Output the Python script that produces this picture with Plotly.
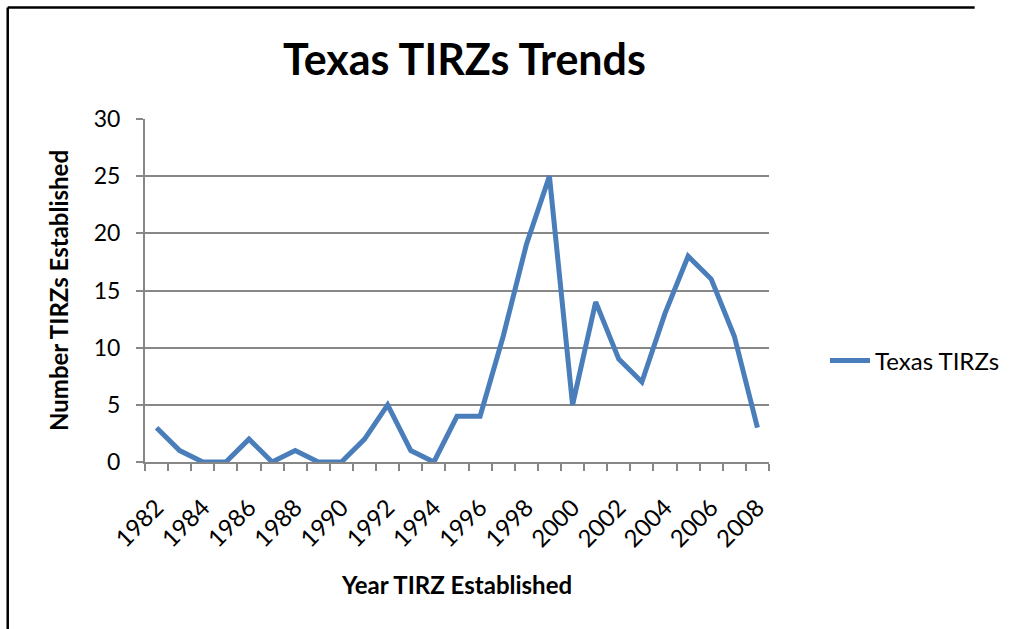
import plotly.graph_objects as go

years = list(range(1982, 2009))
tirzs = [3, 1, 0, 0, 2, 0, 1, 0, 0, 2, 5, 1, 0, 4, 4, 11, 19, 25, 5, 14, 9, 7, 13, 18, 16, 11, 3]
label_years = list(range(1982, 2009, 2))
y_ticks = [0, 5, 10, 15, 20, 25, 30]

FONT = "Lato, Calibri, Arial, sans-serif"
GRID = "#878787"
BLUE = "#4A7EBB"

fig = go.Figure()
fig.add_trace(go.Scatter(
    x=years, y=tirzs, mode="lines", name="Texas TIRZs",
    line=dict(color=BLUE, width=5),
))

W, H = 1016, 629
L, R, T, B = 145, 246, 119, 167
pw, ph = W - L - R, H - T - B

# outer frame: top and left edges of the chart border
frame_top = 1 + (T - 7.5) / ph
frame_left = (7.5 - L) / pw
fig.add_shape(type="line", xref="paper", yref="paper",
              x0=frame_left, x1=(W - 40 - L) / pw, y0=frame_top, y1=frame_top,
              line=dict(color="black", width=2.5))
fig.add_shape(type="line", xref="paper", yref="paper",
              x0=frame_left, x1=frame_left, y0=frame_top, y1=-(H - (H - B)) / ph,
              line=dict(color="black", width=2.5))

fig.update_layout(
    width=W, height=H,
    margin=dict(l=L, r=R, t=T, b=B, pad=0),
    paper_bgcolor="white", plot_bgcolor="white",
    font=dict(family=FONT, color="black", size=22),
    title=dict(text="<b>Texas TIRZs Trends</b>", x=(L + pw / 2 + 7) / W, xanchor="center",
               y=1 - 60 / H, yanchor="middle", font=dict(size=43, family=FONT)),
    showlegend=True,
    legend=dict(x=1 + (825 - L - pw) / pw, y=1 - (361 - T) / ph, xanchor="left", yanchor="middle",
                font=dict(size=24), bgcolor="rgba(0,0,0,0)", itemwidth=40),
    xaxis=dict(
        range=[1981.5, 2008.5], tickmode="array", tickvals=label_years,
        ticktext=[str(v) for v in label_years], tickangle=-45,
        ticks="", tickfont=dict(size=24), ticklabelstandoff=20,
        showgrid=False, zeroline=False,
        showline=True, linecolor=GRID, linewidth=2,
        minor=dict(tick0=1981.5, dtick=1, ticks="outside", ticklen=7,
                   tickcolor=GRID, tickwidth=2, showgrid=False),
        title=dict(text="<b>Year TIRZ Established</b>", font=dict(size=24), standoff=26),
        fixedrange=True,
    ),
    yaxis=dict(
        range=[0, 30], tickvals=y_ticks, ticks="outside", ticklen=7,
        tickcolor=GRID, tickwidth=2, tickfont=dict(size=23), ticklabelstandoff=11,
        showgrid=True, gridcolor=GRID, gridwidth=1.5, zeroline=False,
        showline=True, linecolor=GRID, linewidth=2,
        title=dict(text="<b>Number TIRZs Established</b>", font=dict(size=24), standoff=18),
        fixedrange=True,
    ),
)

fig.write_html("out.html")
